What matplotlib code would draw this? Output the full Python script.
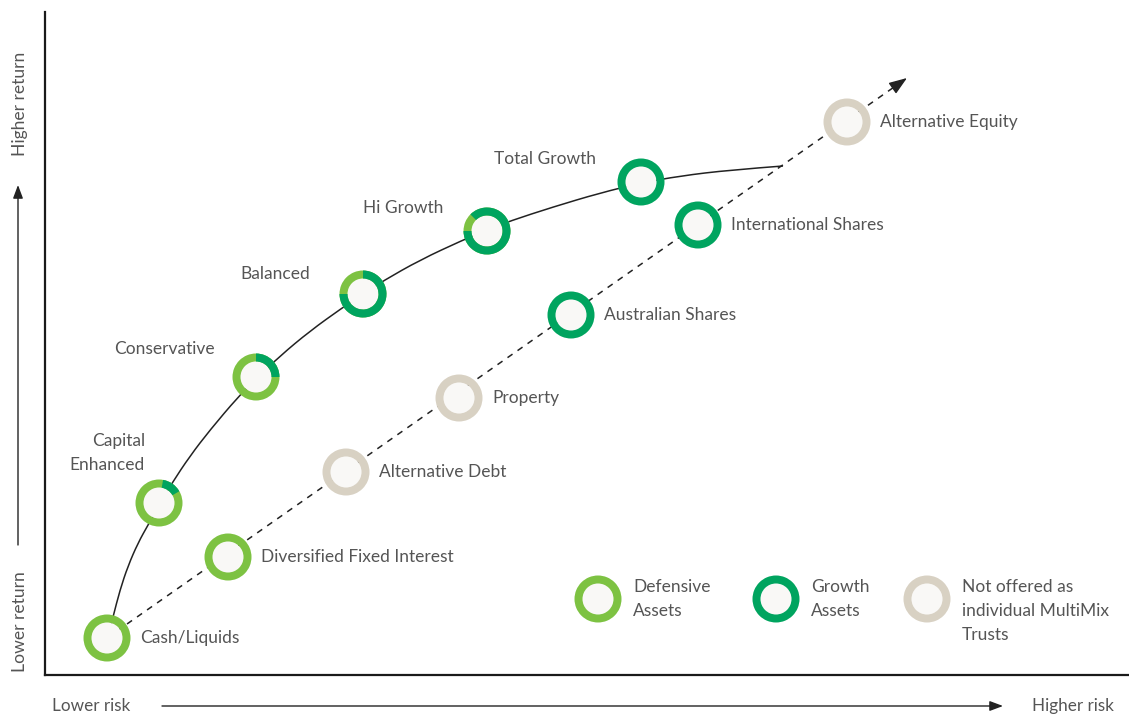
import matplotlib
matplotlib.use("Agg")
import matplotlib.pyplot as plt
from matplotlib.patches import Wedge, PathPatch
from matplotlib.path import Path

plt.rcParams['font.family'] = ['Lato', 'DejaVu Sans']

# ---------------- data (chart units: risk -> right, return -> up) ----------------
# Sector trusts along the dashed risk/return line
sector_names = ["Cash/Liquids", "Diversified Fixed Interest", "Alternative Debt", "Property",
                "Australian Shares", "International Shares", "Alternative Equity"]
sector_risk = [62, 183, 301, 414, 526, 653, 802]
sector_return = [37, 118, 203, 277, 360, 450, 553]
sector_type = ["defensive", "defensive", "other", "other", "growth", "growth", "other"]

# Diversified MultiMix trusts along the solid frontier
mix_names = ["Capital\nEnhanced", "Conservative", "Balanced", "Hi Growth", "Total Growth"]
mix_risk = [114, 211, 318, 442, 596]
mix_return = [172, 298, 381, 444, 493]
# growth-asset arc of each donut, degrees clockwise from 12 o'clock (rest is defensive)
mix_growth_start = [10, 0, 0, 315, 0]
mix_growth_end = [60, 90, 270, 630, 360]

# solid frontier curve (traced guide points)
curve_risk = [66, 68, 75, 83, 93, 103, 115, 127, 145, 165, 193, 211, 235, 265, 297, 318,
              338, 375, 418, 442, 465, 508, 555, 596, 635, 685, 738]
curve_return = [50, 58, 85, 109, 132, 150, 171, 192, 219, 245, 278, 296, 319, 344, 367, 381,
                394, 415, 435, 445, 454, 468, 482, 492, 499, 505, 509]

# dashed line end (arrow tip)
dash_start = (62, 37)
dash_tip = (862, 597)

legend_names = ["Defensive\nAssets", "Growth\nAssets", "Not offered as\nindividual MultiMix\nTrusts"]
legend_type = ["defensive", "growth", "other"]

# ---------------- style ----------------
colors = {"defensive": "#7dc242", "growth": "#00a45f", "other": "#d8d1c3"}
inner_fill = "#f9f8f6"
text_col = "#555555"
FW = "normal"
R_OUT, R_W = 23.5, 8

W, H = 1129, 715
fig = plt.figure(figsize=(W / 100, H / 100), dpi=100)
fig.patch.set_facecolor("white")
x0, y0, x1, y1 = 45, 40, 1129, 703  # axes box in figure pixels (bottom-left origin)
ax = fig.add_axes([x0 / W, y0 / H, (x1 - x0) / W, (y1 - y0) / H])
ax.set_xlim(0, x1 - x0)
ax.set_ylim(0, y1 - y0)
ax.set_xticks([])
ax.set_yticks([])
for s in ["top", "right"]:
    ax.spines[s].set_visible(False)
for s in ["left", "bottom"]:
    ax.spines[s].set_linewidth(1.6)
    ax.spines[s].set_color("#1a1a1a")
ax.set_facecolor("none")


def donut(x, y, arcs, z=5):
    ax.add_patch(Wedge((x, y), R_OUT - R_W, 0, 360, facecolor=inner_fill, edgecolor="none",
                       zorder=z, clip_on=False))
    for a0, a1, c in arcs:
        ax.add_patch(Wedge((x, y), R_OUT, 90 - a1, 90 - a0, width=R_W, facecolor=c,
                           edgecolor="none", zorder=z + 0.1, clip_on=False))


# frontier curve: smooth quadratic path through the traced guide points
pts = list(zip(curve_risk, curve_return))
verts = [pts[0]]
codes = [Path.MOVETO]
for i in range(1, len(pts) - 1):
    nxt = pts[i + 1] if i == len(pts) - 2 else ((pts[i][0] + pts[i + 1][0]) / 2,
                                                 (pts[i][1] + pts[i + 1][1]) / 2)
    verts += [pts[i], nxt]
    codes += [Path.CURVE3, Path.CURVE3]
ax.add_patch(PathPatch(Path(verts, codes), facecolor="none", edgecolor="#222222", lw=1.1,
                       zorder=2))

# dashed line + arrow head
ax.plot([dash_start[0], dash_tip[0] - 8], [dash_start[1], dash_tip[1] - 5.6], color="#222222",
        lw=1.1, ls=(0, (4, 4)), zorder=2)
ax.annotate("", xy=dash_tip, xytext=(dash_tip[0] - 10, dash_tip[1] - 7),
            arrowprops=dict(arrowstyle="-|>,head_length=1.1,head_width=0.4", color="#222222",
                            lw=1, shrinkA=0, shrinkB=0, mutation_scale=10), zorder=3)

# sector donuts
for n, x, y, t in zip(sector_names, sector_risk, sector_return, sector_type):
    donut(x, y, [(0, 360, colors[t])])
    ax.text(x + 33, y, n, fontsize=12.5, color=text_col, ha="left", va="center", zorder=6,
            fontweight=FW)

# multimix donuts
for x, y, g0, g1 in zip(mix_risk, mix_return, mix_growth_start, mix_growth_end):
    arcs = [(0, 360, colors["defensive"])]
    if g1 - g0 >= 360:
        arcs = [(0, 360, colors["growth"])]
    else:
        arcs.append((g0, g1, colors["growth"]))
    donut(x, y, arcs)

mix_label_pos = [(100, 222, "right"), (119, 326, "center"), (230, 401, "center"),
                 (358, 467, "center"), (500, 516, "center")]
for n, (lx, ly, ha) in zip(mix_names, mix_label_pos):
    ax.text(lx, ly, n, fontsize=12.5, color=text_col, ha=ha, va="center", linespacing=1.6,
            zorder=6, fontweight=FW)

# legend
legend_x = [553, 731, 882]
legend_y = 76
for n, t, lx in zip(legend_names, legend_type, legend_x):
    donut(lx, legend_y, [(0, 360, colors[t])])
    ax.text(lx + 35, legend_y + 20, n, fontsize=12.5, color=text_col, ha="left", va="top",
            linespacing=1.62, zorder=6, fontweight=FW)

# axis captions and arrows (figure pixels, bottom-left origin)
fs_x, fs_y = 12.3, 12.6
fig.text(20 / W, (715 - 104) / H, "Higher return", rotation=90, ha="center", va="center",
         fontsize=fs_y, color=text_col, fontweight=FW)
fig.text(20 / W, (715 - 622) / H, "Lower return", rotation=90, ha="center", va="center",
         fontsize=fs_y, color=text_col, fontweight=FW)
fig.text(52 / W, (715 - 706) / H, "Lower risk", ha="left", va="center", fontsize=fs_x,
         color=text_col, fontweight=FW)
fig.text(1114 / W, (715 - 706) / H, "Higher risk", ha="right", va="center", fontsize=fs_x,
         color=text_col, fontweight=FW)
ax.annotate("", xy=(18, 715 - 185), xytext=(18, 715 - 545), xycoords="figure pixels",
            textcoords="figure pixels",
            arrowprops=dict(arrowstyle="-|>,head_length=0.8,head_width=0.3", color="#222222",
                            lw=1, shrinkA=0, shrinkB=0, mutation_scale=10), annotation_clip=False)
ax.annotate("", xy=(1003, 715 - 706), xytext=(162, 715 - 706), xycoords="figure pixels",
            textcoords="figure pixels",
            arrowprops=dict(arrowstyle="-|>,head_length=0.8,head_width=0.3", color="#222222",
                            lw=1, shrinkA=0, shrinkB=0, mutation_scale=10), annotation_clip=False)

fig.savefig("out.png", dpi=100, facecolor="white")
